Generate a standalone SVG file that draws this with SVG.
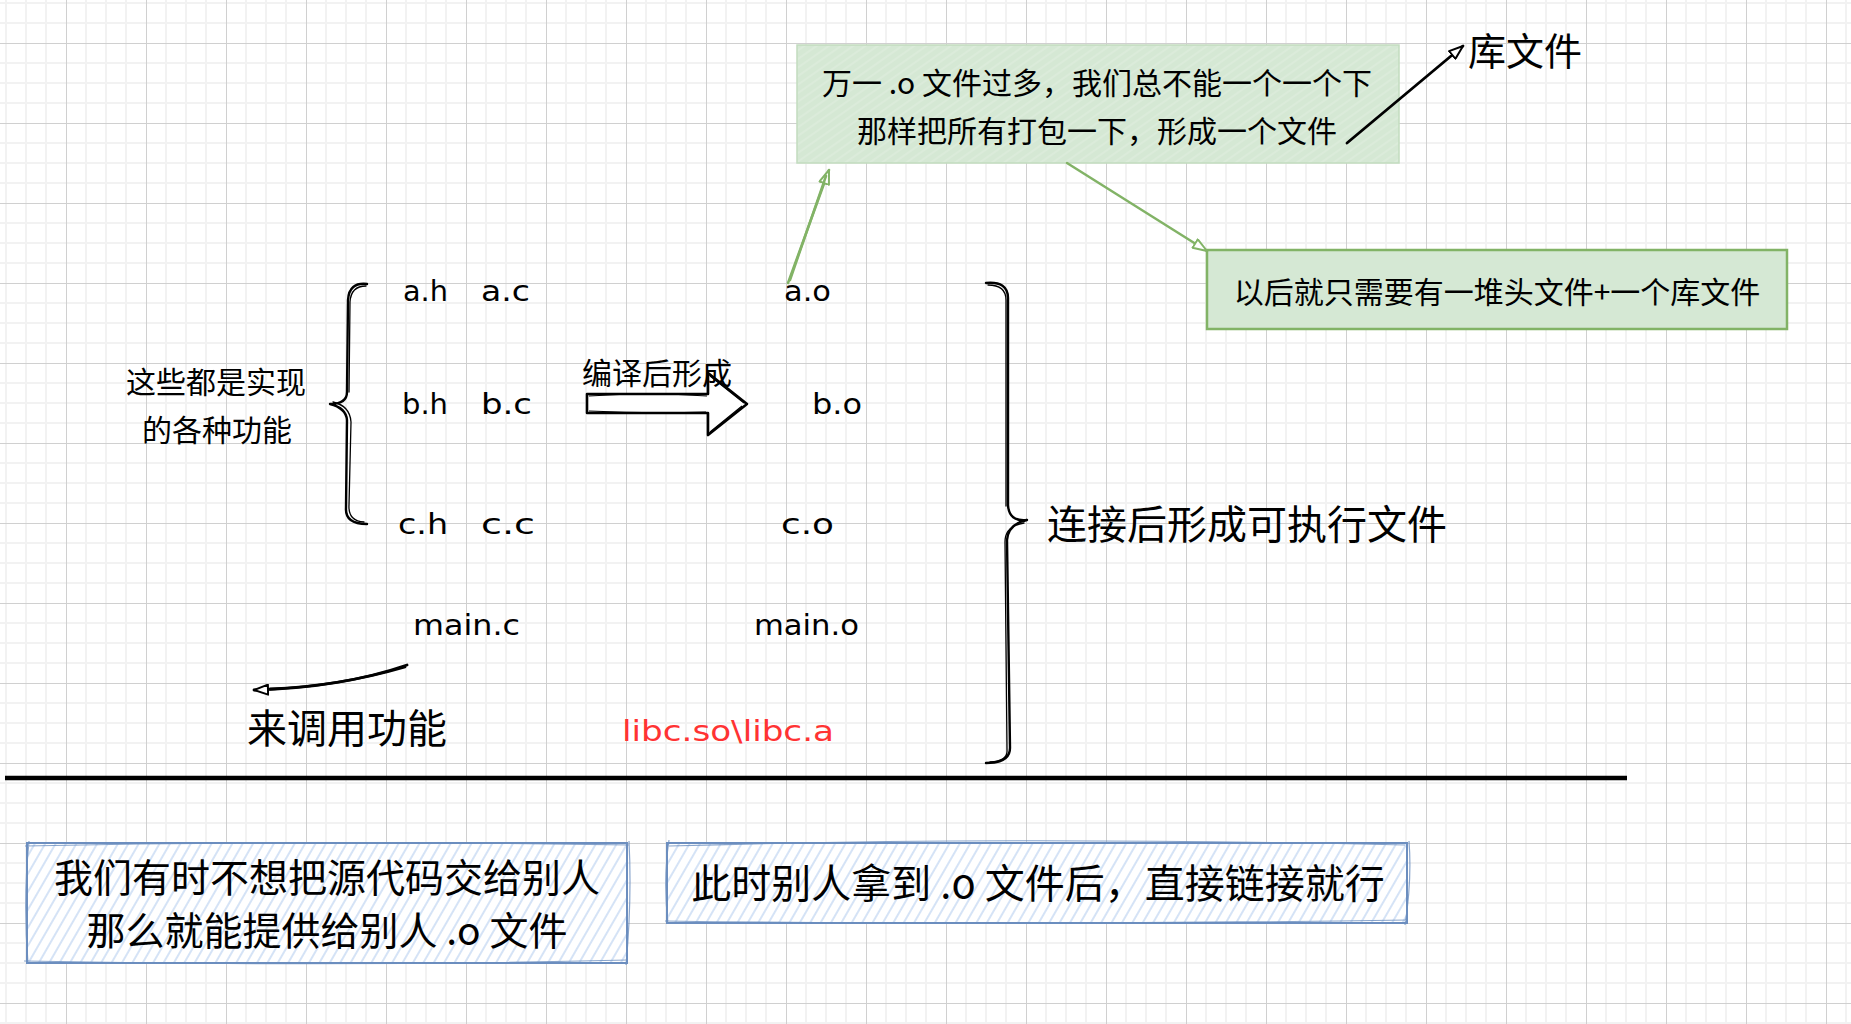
<svg xmlns="http://www.w3.org/2000/svg" width="1851" height="1024" viewBox="0 0 1851 1024">
<style>
.cjk{font-family:"Noto Sans CJK SC","Noto Sans",sans-serif;fill:#000;}
.hand{font-family:"DejaVu Sans","Liberation Sans",sans-serif;fill:#000;font-size:28px;}
.red{fill:#ff3333;}
.brace{fill:none;stroke:#000;stroke-width:2.4;stroke-linecap:round;stroke-linejoin:round;}
.brace2{fill:none;stroke:#000;stroke-width:1.3;stroke-linecap:round;}
.blueStroke{fill:none;stroke:#6c8ebf;stroke-width:2;}
.blueStroke2{fill:none;stroke:#6c8ebf;stroke-width:1.2;opacity:0.8;}
.gline{fill:none;stroke:#82b366;stroke-width:2.5;stroke-linecap:round;}
.bline{fill:none;stroke:#000;stroke-width:2.8;stroke-linecap:round;}
</style>
<defs>
<pattern id="grid" patternUnits="userSpaceOnUse" x="66" y="43" width="80" height="80">
<rect x="0" y="0" width="80" height="80" fill="#ffffff"/>
<rect x="19" y="0" width="2" height="80" fill="#f2f2f2"/>
<rect x="39" y="0" width="2" height="80" fill="#f2f2f2"/>
<rect x="59" y="0" width="2" height="80" fill="#f2f2f2"/>
<rect x="0" y="19" width="80" height="2" fill="#f2f2f2"/>
<rect x="0" y="39" width="80" height="2" fill="#f2f2f2"/>
<rect x="0" y="59" width="80" height="2" fill="#f2f2f2"/>
<rect x="0" y="0" width="1" height="80" fill="#d0d0d0"/>
<rect x="0" y="0" width="80" height="1" fill="#d0d0d0"/>
</pattern>
<pattern id="hachBlue" patternUnits="userSpaceOnUse" width="9" height="9" patternTransform="rotate(30)">
<rect x="0" y="0" width="9" height="9" fill="#ffffff"/>
<line x1="2" y1="0" x2="2" y2="9" stroke="#c3d7f3" stroke-width="1.4"/>
</pattern>
<pattern id="hachGreen" patternUnits="userSpaceOnUse" width="7" height="7" patternTransform="rotate(55)">
<rect x="0" y="0" width="7" height="7" fill="#d5e8d4"/>
<line x1="2" y1="0" x2="2" y2="7" stroke="#e2efe0" stroke-width="1"/>
</pattern>
<marker id="arrB" viewBox="0 0 16 12" refX="15" refY="6" markerWidth="16" markerHeight="12" markerUnits="userSpaceOnUse" orient="auto">
<path d="M1,1 L15,6 L1,11 Z" fill="#ffffff" stroke="#000" stroke-width="2" stroke-linejoin="round"/>
</marker>
<marker id="arrG" viewBox="0 0 16 12" refX="15" refY="6" markerWidth="16" markerHeight="12" markerUnits="userSpaceOnUse" orient="auto">
<path d="M1,1 L15,6 L1,11 Z" fill="#ffffff" stroke="#82b366" stroke-width="2" stroke-linejoin="round"/>
</marker>
</defs>

<rect x="0" y="0" width="1851" height="1024" fill="url(#grid)"/>

<g id="big-arrow">
<path d="M587,394 L708,394 L708,373 L747,404 L708,435 L708,413 L587,413 Z" fill="#ffffff" stroke="#000" stroke-width="2.6" stroke-linejoin="round"/>
<path d="M589,396 Q650,392 707,396 M589,411 Q650,414 706,412 M710,376 L744,403 M710,432 L742,406" fill="none" stroke="#000" stroke-width="1.2"/>
</g>

<g id="node-top-note">
<rect x="797" y="45" width="602" height="118" fill="url(#hachGreen)" stroke="#c2dcbf" stroke-width="1.5"/>
<text class="cjk" font-size="30" x="1097" y="81" text-anchor="middle" dominant-baseline="central">万一 .o 文件过多，我们总不能一个一个下</text>
<text class="cjk" font-size="30" x="1097" y="129" text-anchor="middle" dominant-baseline="central">那样把所有打包一下，形成一个文件</text>
</g>

<g id="node-lib">
<text class="cjk" font-size="38" x="1468" y="48" dominant-baseline="central">库文件</text>
</g>

<g id="node-later">
<rect x="1207" y="250" width="580" height="79" fill="#d5e8d4" stroke="#82b366" stroke-width="2.5"/>
<text class="cjk" font-size="30" x="1497" y="290" text-anchor="middle" dominant-baseline="central">以后就只需要有一堆头文件+一个库文件</text>
</g>

<g id="node-functions">
<text class="cjk" font-size="30" x="216" y="380" text-anchor="middle" dominant-baseline="central">这些都是实现</text>
<text class="cjk" font-size="30" x="217" y="428" text-anchor="middle" dominant-baseline="central">的各种功能</text>
</g>

<g id="left-brace">
<path class="brace" d="M367,284 Q349,282 348,300 L347,392 Q347,404 330,404 Q346,408 347,420 L346,508 Q345,524 367,524"/>
<path class="brace2" d="M366,286 Q351,286 350,302 L349,392 M333,402 Q350,406 351,422 L349,505 Q348,521 364,522"/>
</g>

<g id="node-sources">
<text class="hand" x="403" y="301" textLength="45" lengthAdjust="spacingAndGlyphs">a.h</text>
<text class="hand" x="481" y="301" textLength="49" lengthAdjust="spacingAndGlyphs">a.c</text>
<text class="hand" x="402" y="414" textLength="46" lengthAdjust="spacingAndGlyphs">b.h</text>
<text class="hand" x="481" y="414" textLength="51" lengthAdjust="spacingAndGlyphs">b.c</text>
<text class="hand" x="398" y="534" textLength="50" lengthAdjust="spacingAndGlyphs">c.h</text>
<text class="hand" x="481" y="534" textLength="54" lengthAdjust="spacingAndGlyphs">c.c</text>
<text class="hand" x="413" y="635" textLength="107" lengthAdjust="spacingAndGlyphs">main.c</text>
</g>

<g id="node-compile-label">
<text class="cjk" font-size="30" x="657" y="371" text-anchor="middle" dominant-baseline="central">编译后形成</text>
</g>

<g id="node-objects">
<text class="hand" x="784" y="301" textLength="47" lengthAdjust="spacingAndGlyphs">a.o</text>
<text class="hand" x="812" y="414" textLength="50" lengthAdjust="spacingAndGlyphs">b.o</text>
<text class="hand" x="781" y="534" textLength="53" lengthAdjust="spacingAndGlyphs">c.o</text>
<text class="hand" x="754" y="635" textLength="105" lengthAdjust="spacingAndGlyphs">main.o</text>
<text class="hand red" font-size="29" x="622" y="741" textLength="212" lengthAdjust="spacingAndGlyphs">libc.so\libc.a</text>
</g>

<g id="node-call">
<text class="cjk" font-size="40" x="247" y="726" dominant-baseline="central">来调用功能</text>
</g>

<g id="right-brace">
<path class="brace" d="M986,283 Q1008,281 1008,298 L1008,505 Q1009,522 1027,520 Q1008,524 1007,540 L1010,748 Q1010,763 986,763"/>
<path class="brace2" d="M988,285 Q1006,285 1006,300 L1006,506 M1024,523 Q1005,526 1005,542 L1007,750 Q1008,761 990,762"/>
</g>

<g id="node-link">
<text class="cjk" font-size="40" x="1247" y="522" text-anchor="middle" dominant-baseline="central">连接后形成可执行文件</text>
</g>

<g id="node-source-note">
<rect x="27" y="843" width="600" height="120" fill="url(#hachBlue)"/>
<rect class="blueStroke" x="27" y="843" width="600" height="120"/>
<path class="blueStroke2" d="M25,846 Q320,840 629,845 M629,841 Q632,900 626,965 M24,961 Q330,967 628,960 M29,841 Q23,900 28,964"/>
<text class="cjk" font-size="39" x="327" y="875" text-anchor="middle" dominant-baseline="central">我们有时不想把源代码交给别人</text>
<text class="cjk" font-size="39" x="327" y="928" text-anchor="middle" dominant-baseline="central">那么就能提供给别人 .o 文件</text>
</g>

<g id="node-link-note">
<rect x="667" y="843" width="740" height="80" fill="url(#hachBlue)"/>
<rect class="blueStroke" x="667" y="843" width="740" height="80"/>
<path class="blueStroke2" d="M669,846 Q1000,836 1405,845 M1409,841 Q1412,880 1405,925 M665,921 Q1000,926 1408,920 M669,840 Q663,880 668,924"/>
<text class="cjk" font-size="40" x="1038" y="881" text-anchor="middle" dominant-baseline="central">此时别人拿到 .o 文件后，直接链接就行</text>
</g>

<g id="connectors">
<path class="bline" d="M1347,143 L1463,46" marker-end="url(#arrB)"/>
<path class="gline" d="M788,283 L829,170" marker-end="url(#arrG)"/>
<path class="gline" d="M790,280 L826,176" stroke-width="1.2"/>
<path class="gline" d="M1067,163 L1207,251" marker-end="url(#arrG)"/>
<path class="bline" d="M407,665 Q340,688 254,690" marker-end="url(#arrB)"/>
<path class="bline" d="M405,667 Q340,686 270,689" stroke-width="1.4"/>
<line x1="5" y1="778" x2="1627" y2="778" stroke="#000" stroke-width="4.5"/>
</g>
</svg>
